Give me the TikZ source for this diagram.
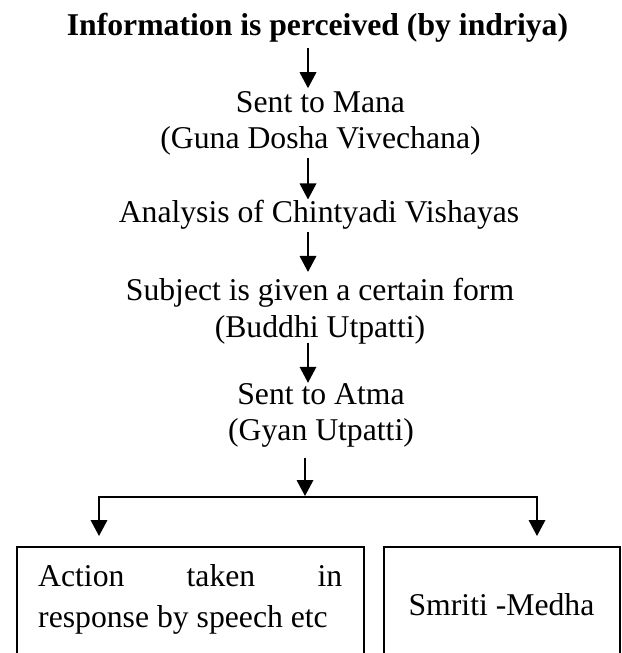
\documentclass[tikz,border=0pt]{standalone}
\usepackage{fontspec}
\setmainfont{Liberation Serif}
\usetikzlibrary{arrows.meta}
\begin{document}
\begin{tikzpicture}[x=1pt,y=-1pt,
  txt/.style={inner sep=0pt, anchor=base, align=center,
    font=\fontsize{31.7}{36.5}\selectfont},
  conn/.style={line width=1.9pt},
  arr/.style={line width=1.9pt, -{Triangle[width=16.5pt,length=16pt]}},
  boxst/.style={draw, line width=1.8pt, inner sep=0pt, anchor=north west}]
\clip (0,0) rectangle (621,653);
\fill[white] (0,0) rectangle (621,653);
% steps (base anchor = baseline of the last line)
\node[txt, font=\fontsize{31.7}{36.5}\selectfont\bfseries] (title) at (317.5,35) {Information is perceived (by indriya)};
\node[txt] (mana) at (320.5,148.5) {Sent to Mana\\(Guna Dosha Vivechana)};
\node[txt] (analysis) at (319,222) {Analysis of Chintyadi Vishayas};
\node[txt] (subject) at (320,337) {Subject is given a certain form\\(Buddhi Utpatti)};
\node[txt] (atma) at (321,440.5) {Sent to Atma\\(Gyan Utpatti)};
% bottom boxes
\node[boxst, minimum width=347pt, minimum height=160pt] (lbox) at (16,546) {};
\node[boxst, minimum width=236pt, minimum height=160pt] (rbox) at (383,546) {};
\node[inner sep=0pt, anchor=base west, align=left,
  font=\fontsize{31.7}{41}\selectfont] (ltext) at (38,627)
  {\hbox to 304pt{Action\hfill taken\hfill in}\\response by speech etc};
\node[txt] (rtext) at (501.5,615) {Smriti -Medha};
% arrows
\coordinate (ax) at (308,0);
\coordinate (j) at (305,497);
\coordinate (jl) at (99,497);
\coordinate (jr) at (537,497);
\draw[arr] ([yshift=-6pt]title.south -| ax) -- ([yshift=2.6pt]mana.north -| ax);
\draw[arr] ([yshift=-3pt]mana.south -| ax) -- ([yshift=0pt]analysis.north -| ax);
\draw[arr] ([yshift=-3pt]analysis.south -| ax) -- ([yshift=6pt]subject.north -| ax);
\draw[arr] ([yshift=1pt]subject.south -| ax) -- ([yshift=0pt]atma.north -| ax);
\draw[arr] ([yshift=-10pt]atma.south -| j) -- ([yshift=1pt]j);
\draw[conn, line cap=rect] (jl) -- (jr);
\draw[arr] (jl) -- ([yshift=10pt]lbox.north -| jl);
\draw[arr] (jr) -- ([yshift=10pt]rbox.north -| jr);
\end{tikzpicture}
\end{document}
